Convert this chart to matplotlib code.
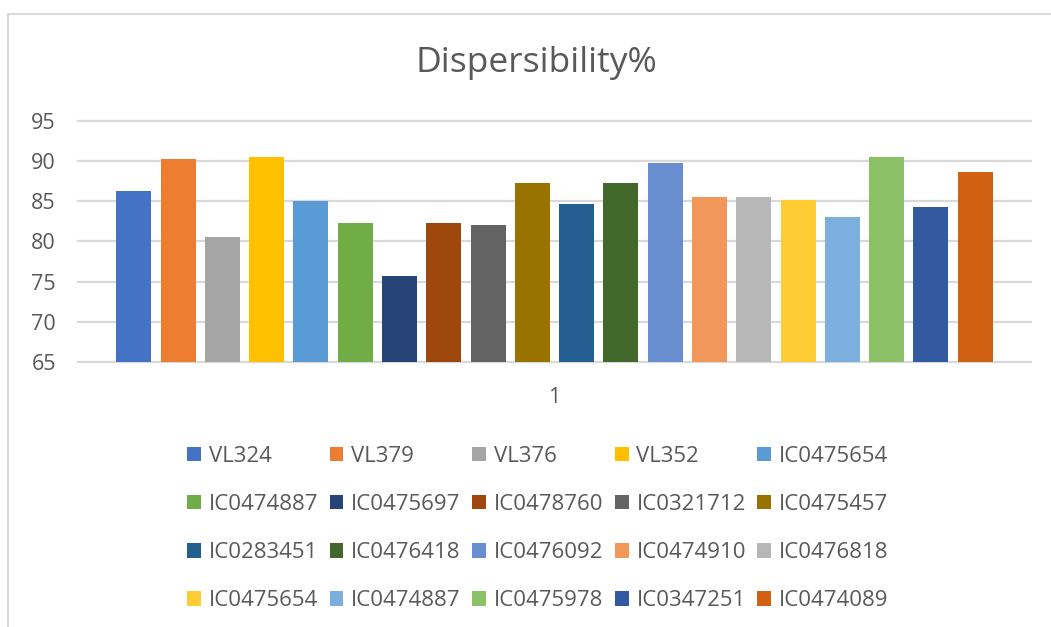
import numpy as np
import matplotlib
matplotlib.use("Agg")
import matplotlib.pyplot as plt
from matplotlib.patches import Rectangle

# genotypes and their dispersibility (%)
genotypes = ["VL324", "VL379", "VL376", "VL352", "IC0475654",
             "IC0474887", "IC0475697", "IC0478760", "IC0321712", "IC0475457",
             "IC0283451", "IC0476418", "IC0476092", "IC0474910", "IC0476818",
             "IC0475654", "IC0474887", "IC0475978", "IC0347251", "IC0474089"]
dispersibility = [86.2, 90.2, 80.6, 90.5, 85.0,
                  82.3, 75.7, 82.3, 82.0, 87.3,
                  84.6, 87.3, 89.7, 85.5, 85.5,
                  85.1, 83.0, 90.5, 84.3, 88.6]
colors = ["#4472C4", "#ED7D31", "#A5A5A5", "#FFC000", "#5B9BD5",
          "#70AD47", "#264478", "#9E480E", "#636363", "#997300",
          "#255E91", "#43682B", "#698ED0", "#F1975A", "#B7B7B7",
          "#FFCD33", "#7CAFDD", "#8CC168", "#335AA1", "#D26012"]
y_ticks = [65, 70, 75, 80, 85, 90, 95]

TEXT = "#595959"
GRID = "#D9D9D9"
plt.rcParams["font.family"] = ["Open Sans", "DejaVu Sans"]

W, H = 1051, 627
fig = plt.figure(figsize=(W / 100, H / 100), dpi=100)
ax = fig.add_axes([78 / W, 1 - 362 / H, (1031 - 78) / W, (362 - 120.7) / H])

# chart frame
fig.add_artist(Rectangle((8 / W, -0.1), 1.2, 1 - 14 / H + 0.1, transform=fig.transFigure,
                         fill=False, edgecolor=GRID, linewidth=1.5))

n = len(dispersibility)
x = np.arange(n) - (n - 1) / 2
handles = []
for xi, val, col, name in zip(x, dispersibility, colors, genotypes):
    h = ax.bar(xi, val - 65, bottom=65, width=0.79, color=col, label=name, zorder=2)
    handles.append(h)

ax.set_xlim(-10.76, 10.76)
ax.set_ylim(65, 95)
ax.set_yticks(y_ticks)
ax.set_xticks([0])
ax.set_xticklabels(["1"])
ax.tick_params(axis="y", length=0, pad=16, labelsize=15.5, labelcolor=TEXT)
ax.tick_params(axis="x", length=0, pad=18, labelsize=15.5, labelcolor=TEXT)
for s in ax.spines.values():
    s.set_visible(False)
ax.set_axisbelow(True)
ax.yaxis.grid(True, color=GRID, linewidth=1.6)
for gl in ax.get_ygridlines():
    gl.set_clip_on(False)

fig.text(536 / W, 1 - 63 / H, "Dispersibility%", ha="center", va="center",
         fontsize=25.5, color=TEXT)

# legend is filled row by row, matplotlib fills columns first
ncol, nrow = 5, 4
order = [r * ncol + c for c in range(ncol) for r in range(nrow)]
leg = fig.legend([handles[i] for i in order], [genotypes[i] for i in order],
                 loc="upper left", bbox_to_anchor=(187 / W, 1 - 446 / H),
                 ncol=ncol, frameon=False, fontsize=16, labelcolor=TEXT,
                 handlelength=0.62, handleheight=0.62, handletextpad=0.35,
                 columnspacing=0.52, labelspacing=1.22,
                 borderpad=0, borderaxespad=0)

fig.savefig("out.png", dpi=100)
